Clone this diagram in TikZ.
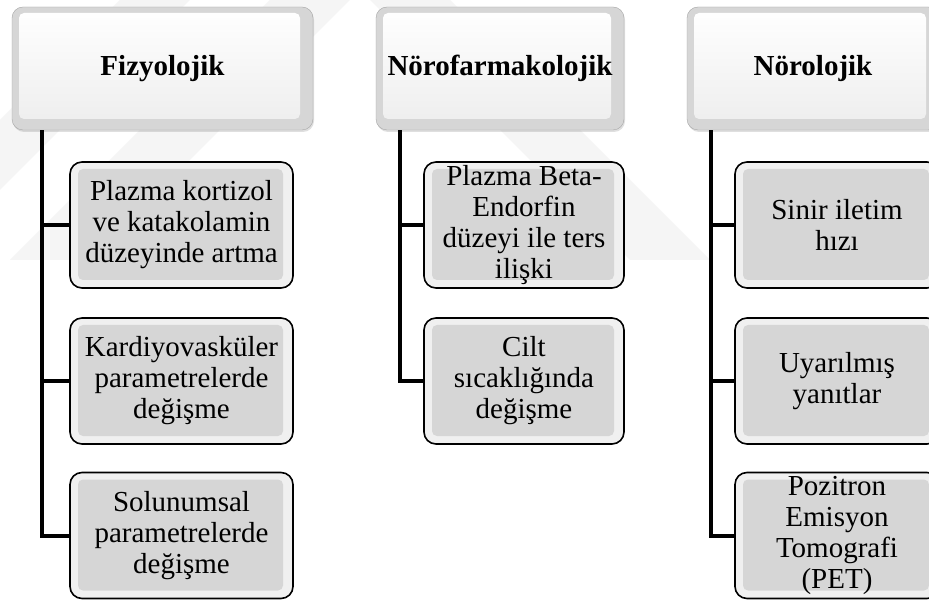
\documentclass[tikz,border=0pt]{standalone}
\usepackage{fontspec}
\setmainfont{Liberation Serif}
\usetikzlibrary{shadows}
\begin{document}
\begin{tikzpicture}[x=1pt,y=-1pt]
    \tikzset{
        cat/.style={rounded corners=11pt, draw=black!35, fill=black!16, minimum height=123pt, inner sep=0pt,
            font=\fontsize{29}{31}\selectfont\bfseries,
            drop shadow={opacity=0.25,shadow xshift=1pt,shadow yshift=-2pt},
            path picture={\fill[top color=white,bottom color=black!7,rounded corners=5pt]
                ([shift={(7pt,-6pt)}]path picture bounding box.north west) rectangle
                ([shift={(-13pt,11pt)}]path picture bounding box.south east);}},
        leaf/.style={rounded corners=12pt, draw=black, line width=1.6pt, fill=black!6, minimum width=#1,
            minimum height=126pt, inner sep=0pt, align=center, font=\fontsize{29}{31}\selectfont,
            path picture={\fill[black!16,rounded corners=5pt]
                ([shift={(8pt,-7pt)}]path picture bounding box.north west) rectangle
                ([shift={(-10pt,8pt)}]path picture bounding box.south east);}},
        spine/.style={line width=4pt}}
    \useasboundingbox (0,0) rectangle (929,601);
    \fill[white] (0,0) rectangle (929,601);
    % watermark
    \fill[black!4] (120,0) -- (190,0) -- (0,190) -- (0,120) -- cycle;
    \fill[black!4] (270,0) -- (350,0) -- (90,260) -- (10,260) -- cycle;
    \fill[black!4] (370,0) -- (450,0) -- (710,260) -- (630,260) -- cycle;
    % headings
    \node[cat,minimum width=301pt] (fiz) at (162.5,68.5) {Fizyolojik};
    \node[cat,minimum width=248pt] (nfk) at (500,68.5) {Nörofarmakolojik};
    \node[cat,minimum width=252pt] (nrl) at (813,68.5) {Nörolojik};
    % items
    \node[leaf=223pt] (fiz1) at (181.5,225) {Plazma kortizol\\ve katakolamin\\düzeyinde artma};
    \node[leaf=223pt] (fiz2) at (181.5,381) {Kardiyovasküler\\parametrelerde\\değişme};
    \node[leaf=223pt] (fiz3) at (181.5,535.5) {Solunumsal\\parametrelerde\\değişme};
    \node[leaf=200pt] (nfk1) at (524,225) {Plazma Beta-\\Endorfin\\düzeyi ile ters\\ilişki};
    \node[leaf=200pt] (nfk2) at (524,381) {Cilt\\sıcaklığında\\değişme};
    \node[leaf=204pt] (nrl1) at (837,225) {Sinir iletim\\hızı};
    \node[leaf=204pt] (nrl2) at (837,381) {Uyarılmış\\yanıtlar};
    \node[leaf=204pt] (nrl3) at (837,535.5) {Pozitron\\Emisyon\\Tomografi\\(PET)};
    % connectors
    \foreach \c in {fiz1,fiz2,fiz3}
        \draw[spine] ([xshift=30pt]fiz.south west) |- (\c.west);
    \foreach \c in {nfk1,nfk2}
        \draw[spine] ([xshift=24pt]nfk.south west) |- (\c.west);
    \foreach \c in {nrl1,nrl2,nrl3}
        \draw[spine] ([xshift=24pt]nrl.south west) |- (\c.west);
\end{tikzpicture}
\end{document}
